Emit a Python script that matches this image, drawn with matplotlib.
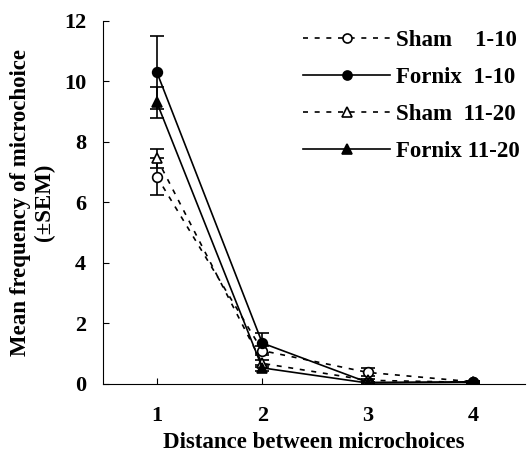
import matplotlib
matplotlib.use("Agg")
import matplotlib.pyplot as plt
from matplotlib.lines import Line2D

distance = [1, 2, 3, 4]
sham_1_10 = [6.85, 1.1, 0.38, 0.07]
sham_1_10_sem = [0.6, 0.15, 0.13, 0.03]
fornix_1_10 = [10.3, 1.35, 0.05, 0.07]
fornix_1_10_sem = [1.2, 0.33, 0.03, 0.03]
sham_11_20 = [7.45, 0.68, 0.12, 0.05]
sham_11_20_sem = [0.3, 0.12, 0.05, 0.03]
fornix_11_20 = [9.3, 0.53, 0.03, 0.05]
fornix_11_20_sem = [0.5, 0.1, 0.03, 0.03]
labels = ["Sham    1-10", "Fornix  1-10", "Sham  11-20", "Fornix 11-20"]

plt.rcParams["font.family"] = "Liberation Serif"
plt.rcParams["font.weight"] = "bold"

fig = plt.figure(figsize=(5.27, 4.62), dpi=100)
ax = fig.add_axes([0.195, 0.169, 0.801, 0.786])

dash = (0, (3, 4))
series = [
    (sham_1_10, sham_1_10_sem, dash, "o", "white"),
    (fornix_1_10, fornix_1_10_sem, "-", "o", "black"),
    (sham_11_20, sham_11_20_sem, dash, "^", "white"),
    (fornix_11_20, fornix_11_20_sem, "-", "^", "black"),
]
handles = []
for (y, e, ls, mk, fc), lab in zip(series, labels):
    ax.errorbar(distance, y, yerr=e, color="black", ls=ls, lw=1.2, marker=mk,
                ms=7, mfc=fc, mec="black", mew=1.2, capsize=5, elinewidth=1.2,
                capthick=1.2)
    handles.append(Line2D([], [], color="black", ls=ls, lw=1.2, marker=mk, ms=6.5,
                          mfc=fc, mec="black", mew=1.2, label=lab))

ax.set_xlim(0.487, 4.49)
ax.set_ylim(0, 12)
ax.set_xticks(distance)
ax.set_yticks(range(0, 13, 2))
ax.spines["top"].set_visible(False)
ax.spines["right"].set_visible(False)
ax.tick_params(direction="in", labelsize=16, length=4)
ax.tick_params(axis="x", pad=16)
ax.tick_params(axis="y", pad=12)
ax.set_xlabel("Distance between microchoices", fontsize=16.5, fontweight="bold",
              labelpad=4)
ax.set_ylabel("Mean frequency of microchoice\n(±SEM)", fontsize=16.5,
              fontweight="bold", labelpad=6)
ax.legend(handles=handles, loc="upper right", frameon=False, fontsize=16.5,
          handlelength=3.8, borderaxespad=0.0, labelspacing=0.7,
          handletextpad=0.25, bbox_to_anchor=(1.01, 1.0))

fig.savefig("out.png", dpi=100)
